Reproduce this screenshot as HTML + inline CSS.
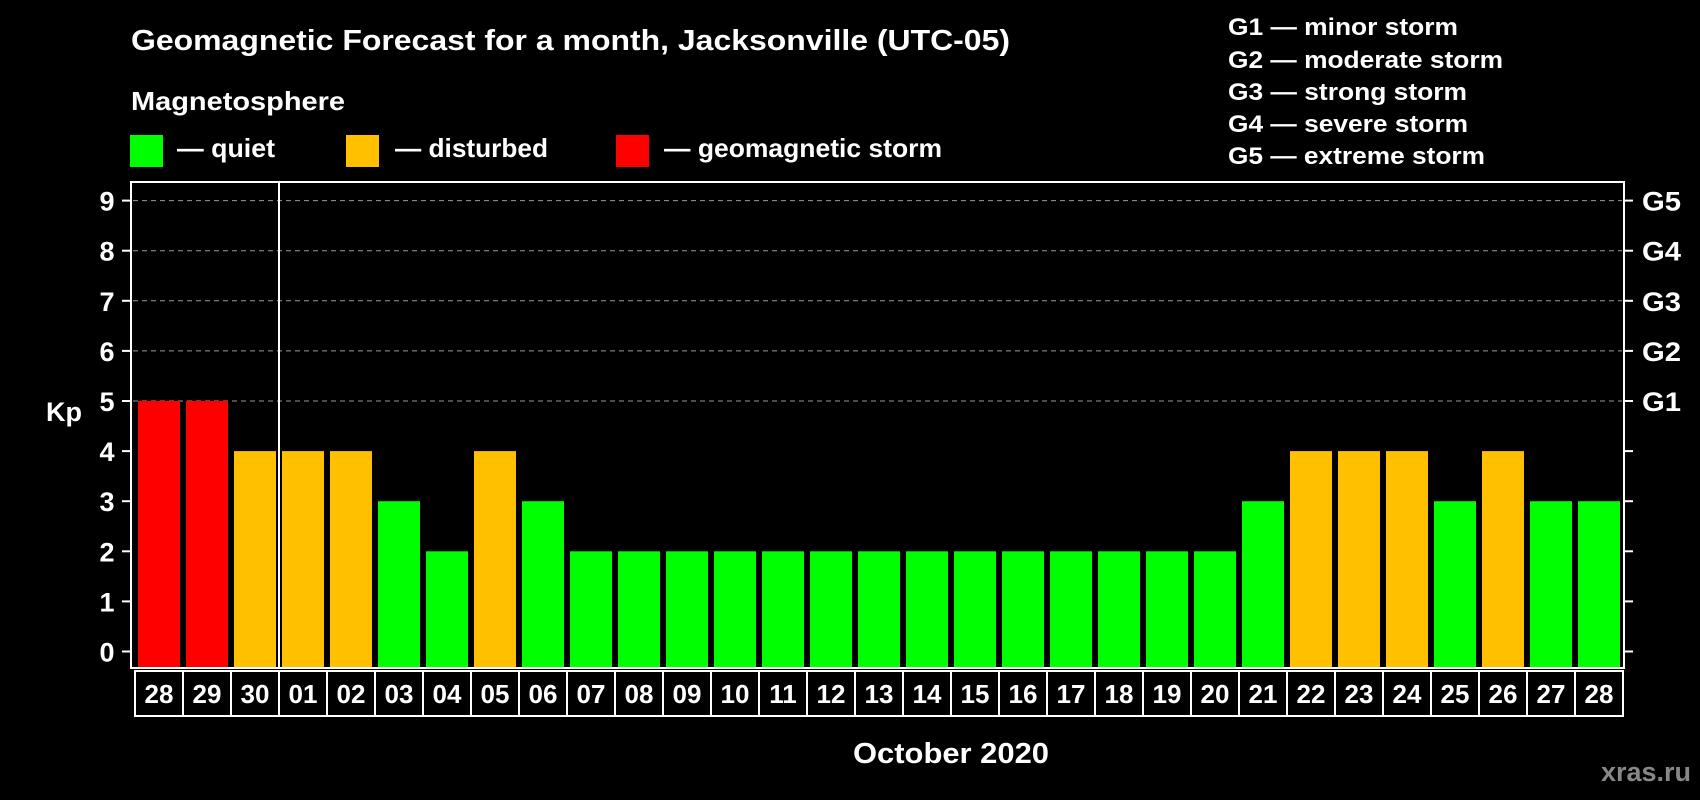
<!DOCTYPE html>
<html><head><meta charset="utf-8"><style>
html,body{margin:0;padding:0;background:#000;}
svg{display:block;font-family:"Liberation Sans",Arial,sans-serif;font-weight:bold;}
</style></head><body>
<svg id="chart" width="1700" height="800" viewBox="0 0 1700 800" xmlns="http://www.w3.org/2000/svg">
<rect x="0" y="0" width="1700" height="800" fill="#000"/>
<text x="131" y="50" fill="#fff" font-size="29" textLength="879" lengthAdjust="spacingAndGlyphs">Geomagnetic Forecast for a month, Jacksonville (UTC-05)</text>
<text x="131" y="110" fill="#fff" font-size="26" textLength="214" lengthAdjust="spacingAndGlyphs">Magnetosphere</text>
<g>
<rect x="130" y="135" width="33" height="32" fill="#00ff00"/>
<text x="177" y="157" fill="#fff" font-size="26" textLength="98" lengthAdjust="spacingAndGlyphs">— quiet</text></g>
<g>
<rect x="346" y="135" width="33" height="32" fill="#ffc000"/>
<text x="395" y="157" fill="#fff" font-size="26" textLength="153" lengthAdjust="spacingAndGlyphs">— disturbed</text></g>
<g>
<rect x="616" y="135" width="33" height="32" fill="#ff0000"/>
<text x="664" y="157" fill="#fff" font-size="26" textLength="278" lengthAdjust="spacingAndGlyphs">— geomagnetic storm</text></g>
<g fill="#fff" font-size="24">
<text x="1228" y="35" textLength="230" lengthAdjust="spacingAndGlyphs">G1 — minor storm</text>
<text x="1228" y="68" textLength="275" lengthAdjust="spacingAndGlyphs">G2 — moderate storm</text>
<text x="1228" y="100" textLength="239" lengthAdjust="spacingAndGlyphs">G3 — strong storm</text>
<text x="1228" y="132" textLength="240" lengthAdjust="spacingAndGlyphs">G4 — severe storm</text>
<text x="1228" y="164" textLength="257" lengthAdjust="spacingAndGlyphs">G5 — extreme storm</text>
</g>
<g id="grid"></g>
<g id="bars"></g>
<g id="axes"></g>
<text x="64" y="421" fill="#fff" font-size="27" text-anchor="middle">Kp</text>
<text x="951" y="763" fill="#fff" font-size="29" text-anchor="middle" textLength="196" lengthAdjust="spacingAndGlyphs">October 2020</text>
<text x="1691" y="781" fill="#888" font-size="27" text-anchor="end">xras.ru</text>
</svg>
<script>
const days = ["28","29","30","01","02","03","04","05","06","07","08","09","10","11","12","13","14","15","16","17","18","19","20","21","22","23","24","25","26","27","28"];
const kpValues = [5,5,4,4,4,3,2,4,3,2,2,2,2,2,2,2,2,2,2,2,2,2,2,3,4,4,4,3,4,3,3];
const yTicks = [0,1,2,3,4,5,6,7,8,9];
const gLabels = ["G1","G2","G3","G4","G5"];
const gLevels = [5,6,7,8,9];
const monthBreakIndex = 3;

const NS = "http://www.w3.org/2000/svg";
const L = 131, R = 1624, T = 182, B = 668;
const yZero = 651.5, unit = 50.1;
const x0 = 138, step = 48, barW = 42;
function yScale(v){ return yZero - v*unit; }
function xScale(i){ return x0 + i*step; }
function mk(tag, attrs, parent){ const e=document.createElementNS(NS,tag); for(const k in attrs) e.setAttribute(k,attrs[k]); parent.appendChild(e); return e; }
function colorFor(v){ return v>=5 ? "#ff0000" : (v>=4 ? "#ffc000" : "#00ff00"); }

const grid = document.getElementById("grid"), bars = document.getElementById("bars"), axes = document.getElementById("axes");
gLevels.forEach((lv,i)=>{
  const l = mk("line",{x1:L+2,x2:R-2,y1:yScale(lv),y2:yScale(lv),stroke:"#999","stroke-width":1,"stroke-dasharray":"5,4"},grid);
  
  
});
kpValues.forEach((v,i)=>{
  const r = mk("rect",{x:xScale(i),y:yScale(v),width:barW,height:B-1-yScale(v),fill:colorFor(v)},bars);
  
  
});
const frame = mk("rect",{x:L,y:T,width:R-L,height:B-T,fill:"none",stroke:"#fff","stroke-width":2},axes);


const sep = mk("line",{x1:xScale(monthBreakIndex)-3,x2:xScale(monthBreakIndex)-3,y1:T,y2:B,stroke:"#fff","stroke-width":2},axes);


yTicks.forEach(t=>{
  const y = yScale(t);
  const tl = mk("line",{x1:122,x2:L,y1:y,y2:y,stroke:"#fff","stroke-width":2},axes);
  
  
  const tr = mk("line",{x1:R,x2:1633,y1:y,y2:y,stroke:"#fff","stroke-width":2},axes);
  
  
  const tx = mk("text",{x:107,y:y+10,fill:"#fff","font-size":27,"text-anchor":"middle"},axes);
  tx.textContent = t;
  
  
});
gLabels.forEach((g,i)=>{
  const tx = mk("text",{x:1642,y:yScale(gLevels[i])+10,fill:"#fff","font-size":27,textLength:39,lengthAdjust:"spacingAndGlyphs"},axes);
  tx.textContent = g;
  
  
});
days.forEach((d,i)=>{
  const cx = xScale(i) - 3;
  const c = mk("rect",{x:cx,y:671,width:step,height:45,fill:"none",stroke:"#fff","stroke-width":2},axes);
  
  
  const tx = mk("text",{x:cx+step/2,y:703,fill:"#fff","font-size":26,"text-anchor":"middle"},axes);
  tx.textContent = d;
  
  
});
</script>
</body></html>
